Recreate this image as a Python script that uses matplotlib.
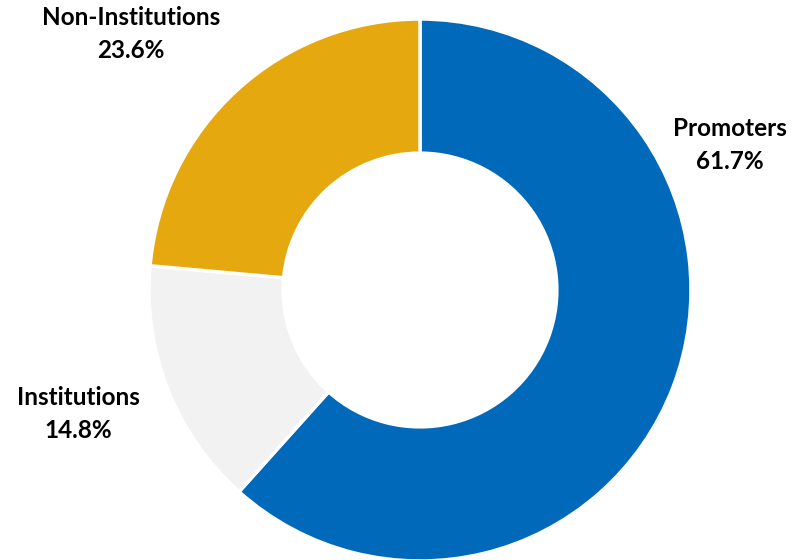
import matplotlib.pyplot as plt

# shareholding pattern
categories = ["Promoters", "Institutions", "Non-Institutions"]
shares = [61.7, 14.8, 23.6]
colors = ["#0169B9", "#F2F2F2", "#E6A80F"]

# label positions (data coords, donut radius = 1)
label_pos = [(1.144, 0.535), (-1.262, -0.458), (-1.066, 0.944)]

fig = plt.figure(figsize=(7.95, 5.6), dpi=100)
cx, cy, r = 420, 290, 271
ax = fig.add_axes([(cx - r) / 795, (560 - cy - r) / 560, 2 * r / 795, 2 * r / 560])

ax.pie(shares, colors=colors, startangle=90, counterclock=False,
       radius=1, wedgeprops=dict(width=0.495, edgecolor="white", linewidth=2.5))
ax.set_xlim(-1, 1)
ax.set_ylim(-1, 1)
ax.set_aspect("equal")
ax.axis("off")

for name, val, (x, y) in zip(categories, shares, label_pos):
    ax.text(x, y, f"{name}\n{val:.1f}%", ha="center", va="center",
            fontsize=17.5, fontweight="bold", family="Lato", linespacing=1.5,
            color="black", clip_on=False)

fig.savefig("out.png", dpi=100)
